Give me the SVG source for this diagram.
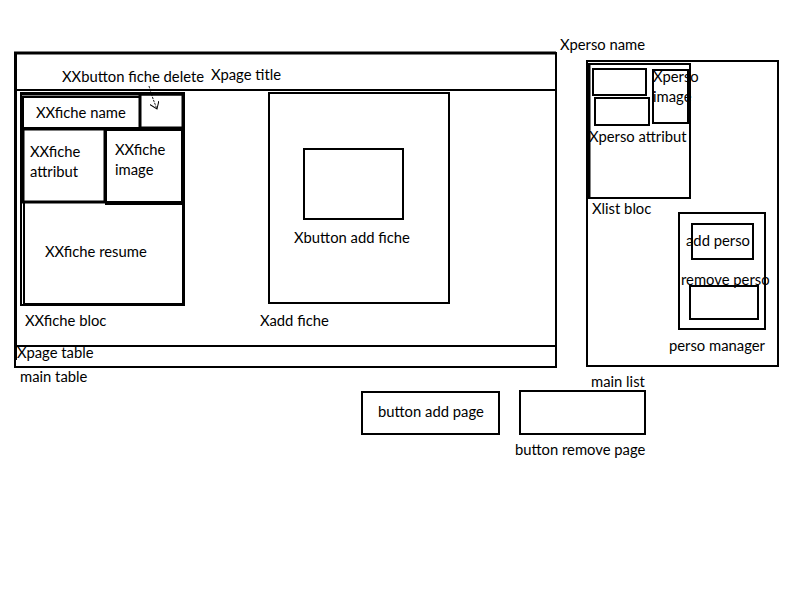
<svg xmlns="http://www.w3.org/2000/svg" width="800" height="600" viewBox="0 0 800 600">
  <style>
    .box { fill: none; stroke: #000; stroke-width: 2; }
    .thick { fill: none; stroke: #000; stroke-width: 3; }
    .line { stroke: #000; stroke-width: 2; fill: none; }
    text { font-family: Lato, "Open Sans", "Liberation Sans", sans-serif; font-size: 14.8px; fill: #000; }
  </style>
  <defs>
    <marker id="arrowOpen" markerWidth="10" markerHeight="10" refX="7" refY="5" orient="auto" markerUnits="userSpaceOnUse">
      <path d="M0,0 L7,5 L0,10" fill="none" stroke="#000" stroke-width="1"/>
    </marker>
  </defs>
  <rect width="800" height="600" fill="#fff"/>

  <!-- main table -->
  <g id="main-table">
    <rect class="box" x="15" y="53" width="541" height="314"/>
    <line class="thick" x1="14" y1="53" x2="556" y2="53"/>
    <line class="thick" x1="15.5" y1="52" x2="15.5" y2="360"/>
    <line class="line" x1="15" y1="90" x2="556" y2="90"/>
    <line class="line" x1="15" y1="346" x2="556" y2="346"/>
    <text x="211" y="80">Xpage title</text>
    <text x="17" y="358">Xpage table</text>
    <text x="20" y="382">main table</text>
  </g>

  <!-- fiche bloc -->
  <g id="fiche-bloc">
    <rect class="box" x="21" y="93" width="163" height="212"/>
    <line class="thick" x1="21" y1="94" x2="185" y2="94"/>
    <line class="thick" x1="183.5" y1="93" x2="183.5" y2="306"/>
    <line class="thick" x1="24" y1="304.5" x2="185" y2="304.5"/>
    <text x="25" y="326">XXfiche bloc</text>
  </g>

  <g id="fiche-name">
    <rect class="box" x="23" y="97" width="117" height="31"/>
    <text x="36" y="118">XXfiche name</text>
  </g>

  <g id="fiche-delete">
    <rect class="thick" x="140" y="94" width="43" height="34"/>
    <text x="62" y="82">XXbutton fiche delete</text>
  </g>

  <g id="fiche-attribut">
    <rect class="thick" x="23" y="129" width="82" height="73"/>
    <text x="30" y="157">XXfiche</text>
    <text x="30" y="177">attribut</text>
  </g>

  <g id="fiche-image">
    <rect class="box" x="106" y="130" width="76" height="74"/>
    <rect fill="none" stroke="#000" stroke-width="1" x="105" y="129" width="78" height="73"/>
    <text x="115" y="155">XXfiche</text>
    <text x="115" y="175">image</text>
  </g>

  <g id="fiche-resume">
    <rect class="box" x="24" y="202" width="159" height="102"/>
    <text x="45" y="257">XXfiche resume</text>
  </g>

  <!-- add fiche -->
  <g id="add-fiche">
    <rect class="box" x="269" y="93" width="180" height="210"/>
    <text x="260" y="326">Xadd fiche</text>
  </g>

  <g id="button-add-fiche">
    <rect class="box" x="304" y="149" width="99" height="70"/>
    <text x="294" y="243">Xbutton add fiche</text>
  </g>

  <!-- main list -->
  <g id="main-list">
    <rect class="box" x="587" y="61" width="191" height="305"/>
    <text x="560" y="50">Xperso name</text>
    <text x="591" y="387">main list</text>
  </g>

  <g id="list-bloc">
    <rect class="box" x="589" y="64" width="101" height="134"/>
    <line class="thick" x1="589" y1="64" x2="589" y2="198"/>
    <text x="592" y="214">Xlist bloc</text>
  </g>

  <g id="perso-attribut">
    <rect class="box" x="593" y="69" width="53" height="26"/>
    <rect class="box" x="595" y="98" width="54" height="27"/>
    <text x="589" y="142">Xperso attribut</text>
  </g>

  <g id="perso-image">
    <rect class="box" x="653" y="70" width="35" height="53"/>
    <text x="653" y="82">Xperso</text>
    <text x="653" y="102">image</text>
  </g>

  <g id="perso-manager">
    <rect class="box" x="679" y="213" width="86" height="116"/>
    <text x="669" y="351">perso manager</text>
  </g>

  <g id="add-perso">
    <rect class="box" x="692" y="224" width="61" height="35"/>
    <text x="686" y="246">add perso</text>
  </g>

  <g id="remove-perso">
    <rect class="box" x="690" y="286" width="68" height="33"/>
    <text x="681" y="285">remove perso</text>
  </g>

  <!-- page buttons -->
  <g id="button-add-page">
    <rect class="box" x="362" y="392" width="137" height="42"/>
    <text x="378" y="417">button add page</text>
  </g>

  <g id="button-remove-page">
    <rect class="box" x="520" y="391" width="125" height="43"/>
    <text x="515" y="455">button remove page</text>
  </g>

  <!-- connectors -->
  <g id="connectors">
    <path d="M149,86 Q152,97 157,109" fill="none" stroke="#000" stroke-width="1" stroke-dasharray="2,1" marker-end="url(#arrowOpen)"/>
  </g>
</svg>
